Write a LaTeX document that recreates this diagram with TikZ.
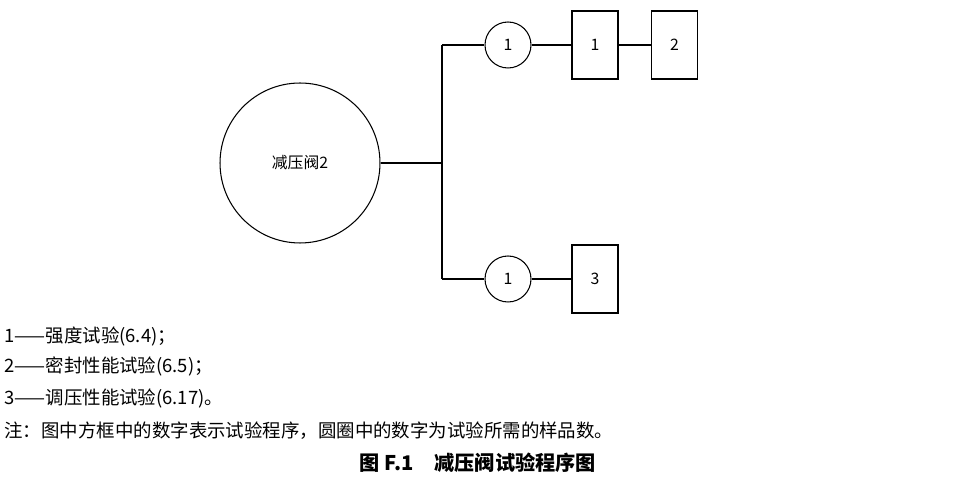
\documentclass[tikz,border=0pt]{standalone}
\usepackage{fontspec}
\setmainfont{Noto Sans CJK SC}
\usetikzlibrary{positioning}
\tikzset{%
  every path/.style={semithick},
    edge/.style={%
        -,
    },
    valve/.style={%
        circle,
        draw=black,
        minimum size=3.2cm,
        font=\small,
    },
    count/.style={%
        circle,
        draw=black,
        minimum size=0.92cm,
        font=\small,
    },
    testbox/.style={%
        rectangle,
        draw=black,
        minimum width=0.92cm,
        minimum height=1.36cm,
        font=\small,
    },
    legend/.style={%
        anchor=west,
        font=\fontsize{10.5}{12}\selectfont,
        inner sep=0pt,
    },
}
\begin{document}
\begin{tikzpicture}[x=0.02cm, y=-0.02cm]
	\useasboundingbox (0, 0) rectangle (961, 479);
	\coordinate (branch_top) at (442, 45);
	\coordinate (branch_mid) at (442, 163);
	\coordinate (branch_bot) at (442, 279);

	\node [valve] at (300, 163) (valve) {减压阀2};

	\node [count] at (508, 45) (count_top) {1};
	\node [testbox] at (595, 45) (box1) {1};
	\node [testbox] at (674.5, 45) (box2) {2};

	\node [count] at (508, 279) (count_bot) {1};
	\node [testbox] at (595, 279) (box3) {3};

	\draw[edge] (valve) -- (branch_mid);
	\draw[edge] (branch_top) -- (branch_bot);
	\draw[edge] (branch_top) -- (count_top);
	\draw[edge] (branch_bot) -- (count_bot);
	\draw[edge] (count_top) -- (box1);
	\draw[edge] (box1) -- (box2);
	\draw[edge] (count_bot) -- (box3);

	\node [legend] at (4, 336) (note1) {1——强度试验(6.4)；};
	\node [legend] at (4, 366) (note2) {2——密封性能试验(6.5)；};
	\node [legend] at (4, 398) (note3) {3——调压性能试验(6.17)。};
	\node [legend] at (4, 431) (note4) {注：图中方框中的数字表示试验程序，圆圈中的数字为试验所需的样品数。};
	\node [font=\fontsize{11.5}{13}\selectfont\bfseries, inner sep=0pt] at (478, 463) (caption) {图 F.1\quad 减压阀试验程序图};
\end{tikzpicture}
\end{document}
